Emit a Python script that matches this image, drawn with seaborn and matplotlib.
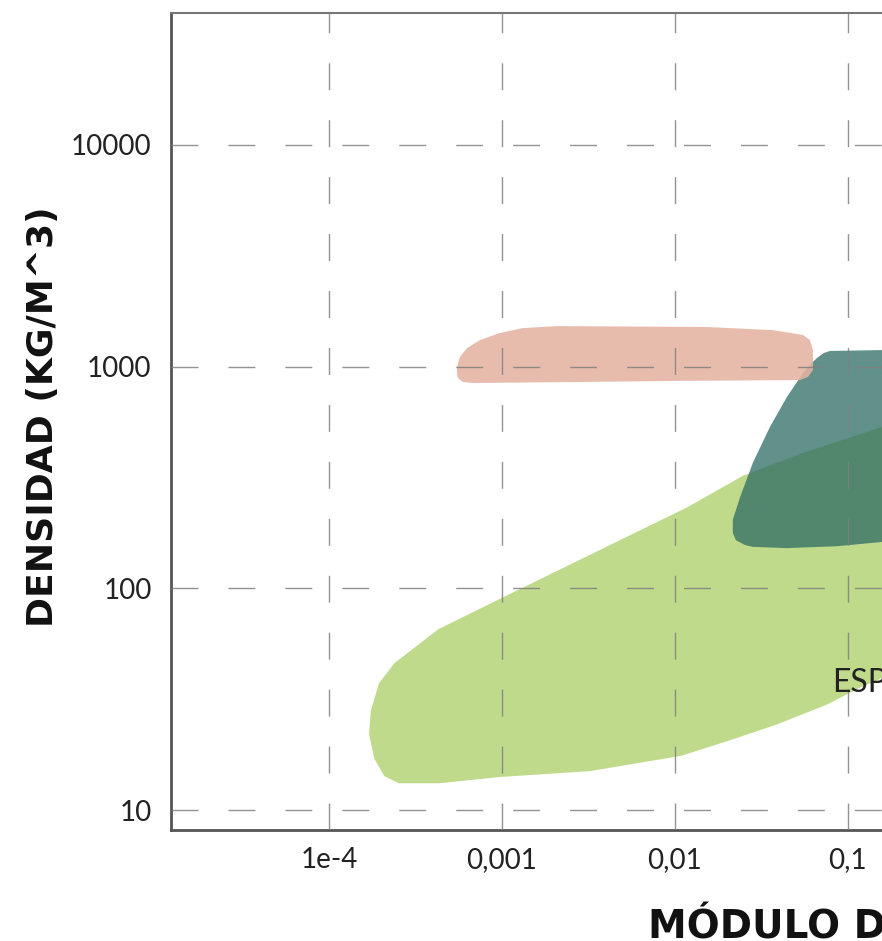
import matplotlib
matplotlib.use("Agg")
import matplotlib.pyplot as plt
import seaborn as sns

# axis ticks
x_ticks = [1e-4, 1e-3, 1e-2, 1e-1, 1, 10, 100]
x_tick_labels = ["1e-4", "0,001", "0,01", "0,1", "1", "10", "100"]
y_ticks = [10, 100, 1000, 10000]
y_tick_labels = ["10", "100", "1000", "10000"]

# outline of each family: young's modulus (GPa) and density (kg/m^3)
pink_mod = [5.5e-4, 5.57e-4, 5.96e-4, 6.79e-4, 2.57e-3, 9.73e-3, 0.0528, 0.0587, 0.0628,
            0.0628, 0.0603, 0.0550, 0.0368, 0.0153, 2.08e-3, 1.32e-3, 9.73e-4, 7.47e-4,
            6.28e-4, 5.71e-4, 5.5e-4]
pink_dens = [935, 887, 851, 843, 851, 861, 869, 897, 964,
             1186, 1316, 1387, 1459, 1507, 1521, 1490, 1416, 1316,
             1211, 1104, 995]

teal_mod = [0.0787, 0.157, 0.757, 2.0, 2.5, 2.5, 2.0, 0.757, 0.157, 0.0863, 0.0444, 0.0282,
            0.0254, 0.0225, 0.0216, 0.0216, 0.0238, 0.0282, 0.0354, 0.0444, 0.0550,
            0.0620, 0.0662, 0.0726]
teal_dens = [1175, 1186, 1186, 1150, 900, 250, 190, 174, 162, 155, 152, 154,
             157, 165, 178, 204, 258, 368, 534, 729, 935,
             1040, 1092, 1151]

green_mod = [1.73e-4, 1.77e-4, 1.97e-4, 2.41e-4, 4.33e-4, 9.73e-4, 4.88e-3, 0.0120,
             0.0247, 0.0528, 0.157, 0.757, 2.0, 2.19, 2.0, 0.757, 0.157, 0.116, 0.0746,
             0.0379, 0.0195, 0.0108, 3.23e-3, 9.73e-4, 4.33e-4, 2.54e-4, 2.11e-4, 1.85e-4]
green_dens = [22.1, 28.1, 37.2, 45.7, 65.0, 88.7, 164, 231,
              318, 399, 528, 745, 600, 350, 150, 58.6, 39.9, 36.0, 30.2,
              24.5, 20.6, 17.8, 15.2, 14.3, 13.4, 13.4, 14.4, 17.2]

label_text = "ESPUMAS"
label_pos = (0.081, 37.5)

sns.set_theme(style="white")
plt.rcParams['font.family'] = ['Lato', 'DejaVu Sans']

fig = plt.figure(figsize=(8.82, 9.41), dpi=100)
# the chart continues to the right of the picture, so the axes run past the figure edge
ax = fig.add_axes([0.1939, 0.118, 1.552, 0.868])

ax.fill(green_mod, green_dens, color="#c0da8c", ec="#c0da8c", lw=1.5,
        joinstyle="round", zorder=1)
ax.fill(teal_mod, teal_dens, color="#2d6b63", alpha=0.75, lw=0, zorder=1.2)
ax.fill(pink_mod, pink_dens, color="#e5b3a2", alpha=0.88, lw=0, zorder=1.4)

ax.text(label_pos[0], label_pos[1], label_text, fontsize=23, color="#222222",
        ha="left", va="center", zorder=3)

ax.set_xscale("log")
ax.set_yscale("log")
ax.set_xlim(10 ** -4.913, 1e3)
ax.set_ylim(10 ** 0.912, 10 ** 4.592)

ax.set_xticks(x_ticks)
ax.set_xticklabels(x_tick_labels)
ax.set_yticks(y_ticks)
ax.set_yticklabels(y_tick_labels)
ax.minorticks_off()
ax.tick_params(axis="both", length=0, labelsize=20, labelcolor="#222222")
ax.tick_params(axis="x", pad=12)
ax.tick_params(axis="y", pad=14)

ax.set_axisbelow(False)
ax.grid(True, color="#808080", lw=1.0, linestyle=(0, (19.4, 21.6)), alpha=0.85)

for side in ["left", "bottom"]:
    ax.spines[side].set_color("#555555")
    ax.spines[side].set_linewidth(2)
ax.spines["top"].set_color("#777777")
ax.spines["top"].set_linewidth(1.5)

ax.set_xlabel("MÓDULO DE YOUNG (GPA)", fontsize=28, fontweight="bold",
              family="DejaVu Sans", color="#111111")
ax.xaxis.label.set_ha("left")
ax.xaxis.label.set_va("baseline")
ax.xaxis.set_label_coords(0.3484, -0.132)

ax.set_ylabel("DENSIDAD (KG/M^3)", fontsize=26, fontweight="bold",
              family="DejaVu Sans", color="#111111")
ax.yaxis.label.set_va("center")
ax.yaxis.set_label_coords(-0.0935, 0.5055)

fig.savefig("out.png", dpi=100)
